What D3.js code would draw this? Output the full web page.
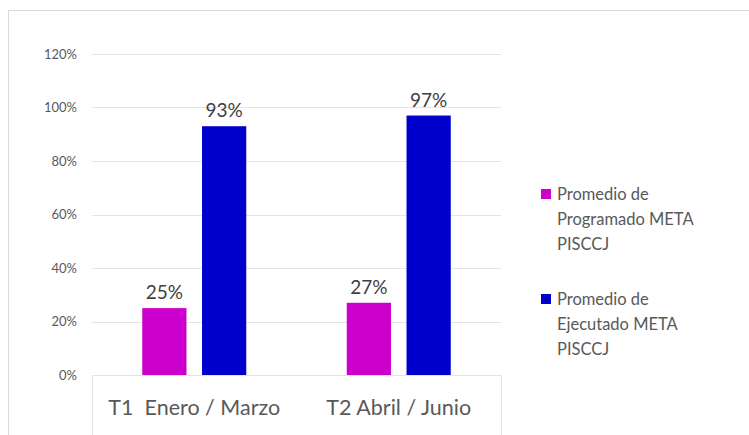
<!DOCTYPE html>
<html>
<head>
<meta charset="utf-8">
<script src="https://cdn.jsdelivr.net/npm/d3@7"></script>
<style>
  body { margin: 0; background: #fff; }
  svg text { font-family: Lato, "Open Sans", sans-serif; }
</style>
</head>
<body>
<svg id="chart" width="749" height="435"></svg>
<script>
var categories = ['T1  Enero / Marzo', 'T2 Abril / Junio']
var seriesNames = [
  ['Promedio de', 'Programado META', 'PISCCJ'],
  ['Promedio de', 'Ejecutado META', 'PISCCJ']
]
var programado = [0.25, 0.27]
var ejecutado = [0.93, 0.97]
var yTicks = [0, 0.2, 0.4, 0.6, 0.8, 1.0, 1.2]
var colors = ['#CC00CC', '#0000CC']

var svg = d3.select('#chart')
var W = 749, H = 435
var plot = { left: 92, right: 501, top: 54, bottom: 375 }

// outer chart border (only top/left visible, cropped image)
svg.append('path')
  .attr('d', `M 8.5 ${H} V 10.5 H ${W}`)
  .attr('fill', 'none')
  .attr('stroke', '#d9d9d9')

var x0 = d3.scaleBand()
  .domain(categories)
  .range([plot.left, plot.right])

var x1 = d3.scaleBand()
  .domain([0, 1])
  .range([0, 104])
  .paddingInner(0.26)

var y = d3.scaleLinear()
  .domain([0, 1.2])
  .range([plot.bottom, plot.top])

// gridlines
svg.append('g')
  .selectAll('line')
  .data(yTicks)
  .enter()
  .append('line')
  .attr('x1', plot.left)
  .attr('x2', plot.right)
  .attr('y1', (d) => Math.round(y(d)) + 0.5)
  .attr('y2', (d) => Math.round(y(d)) + 0.5)
  .attr('stroke', '#e4e4e4')

// category box under the axis
svg.append('path')
  .attr('d', `M ${plot.left + 0.5} ${H} V ${plot.bottom + 0.5} M ${plot.right + 0.5} ${H} V ${plot.bottom + 0.5}`)
  .attr('stroke', '#e4e4e4')
  .attr('fill', 'none')

// y axis labels
var yAxis = d3.axisLeft(y)
  .tickValues(yTicks)
  .tickFormat(d3.format('.0%'))
  .tickSize(0)
  .tickPadding(15)

svg.append('g')
  .attr('transform', `translate(${plot.left},0)`)
  .call(yAxis)
  .call((g) => g.select('.domain').remove())
  .selectAll('text')
  .attr('font-size', 13)
  .attr('fill', '#595959')
  .style('font-family', 'Lato, sans-serif')

// bars
var rows = categories.map((c, i) => ({ cat: c, values: [programado[i], ejecutado[i]] }))

var groups = svg.append('g')
  .selectAll('g')
  .data(rows)
  .enter()
  .append('g')
  .attr('transform', (d) => `translate(${x0(d.cat) + x0.bandwidth() / 2 - 52},0)`)

groups.selectAll('rect')
  .data((d) => d.values.map((v, j) => ({ v: v, j: j })))
  .enter()
  .append('rect')
  .attr('x', (d) => x1(d.j))
  .attr('width', x1.bandwidth())
  .attr('y', (d) => y(d.v))
  .attr('height', (d) => plot.bottom - y(d.v))
  .attr('fill', (d) => colors[d.j])

groups.selectAll('text')
  .data((d) => d.values.map((v, j) => ({ v: v, j: j })))
  .enter()
  .append('text')
  .attr('x', (d) => x1(d.j) + x1.bandwidth() / 2)
  .attr('y', (d) => y(d.v) - 9)
  .attr('text-anchor', 'middle')
  .attr('font-size', 19)
  .attr('fill', '#404040')
  .text((d) => d3.format('.0%')(d.v))

// category labels
var xAxis = d3.axisBottom(x0).tickSize(0).tickPadding(25)
svg.append('g')
  .attr('transform', `translate(0,${plot.bottom})`)
  .call(xAxis)
  .call((g) => g.select('.domain').remove())
  .selectAll('text')
  .attr('font-size', 21.5)
  .attr('fill', '#595959')
  .style('font-family', 'Lato, sans-serif')
  .style('white-space', 'pre')

// legend
var legend = svg.append('g')
  .selectAll('g')
  .data(seriesNames)
  .enter()
  .append('g')
  .attr('transform', (d, i) => `translate(541,${194 + i * 105})`)

legend.append('rect')
  .attr('x', 0)
  .attr('y', -5)
  .attr('width', 10)
  .attr('height', 10)
  .attr('fill', (d, i) => colors[i])

legend.append('text')
  .attr('x', 16)
  .attr('y', 0)
  .attr('font-size', 16.5)
  .attr('fill', '#595959')
  .selectAll('tspan')
  .data((d) => d)
  .enter()
  .append('tspan')
  .attr('x', 16)
  .attr('dy', (d, i) => (i === 0 ? '0.35em' : 25))
  .text((d) => d)
</script>
</body>
</html>
